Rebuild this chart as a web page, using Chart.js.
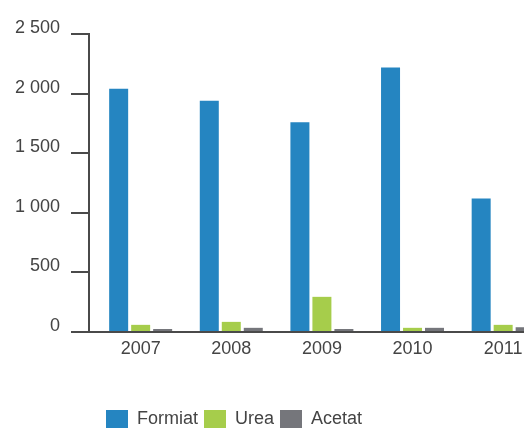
<!DOCTYPE html>
<html>
<head>
<meta charset="utf-8">
<script src="https://cdn.jsdelivr.net/npm/chart.js@4/dist/chart.umd.min.js"></script>
<style>
  html, body { margin: 0; padding: 0; background: #fff; overflow: hidden; }
  #wrap { position: relative; width: 524px; height: 429px; }
</style>
</head>
<body>
<div id="wrap"><canvas id="chart" width="524" height="429"></canvas></div>
<script>
// Production by year (tonnes)
const years = ['2007', '2008', '2009', '2010', '2011'];
const formiat = [2040, 1940, 1760, 2220, 1120];
const urea = [60, 85, 295, 35, 60];
const acetat = [25, 35, 25, 35, 40];
const yTicks = [0, 500, 1000, 1500, 2000, 2500];

const FONT = 'Liberation Sans, Arial, sans-serif';
const TEXT = '#444444';
const AXIS = '#4a4a4a';

const toPoints = arr => arr.map((v, i) => ({ x: i, y: v }));
const withSpaces = v => String(v).replace(/\B(?=(\d{3})+(?!\d))/g, ' ');

// Moves the legend block so it sits left of centre under the axis
const legendPlacement = {
  id: 'legendPlacement',
  afterLayout(chart) {
    const lg = chart.legend;
    if (!lg) return;
    lg.left -= 28; lg.right -= 28;
    lg.top += 9; lg.bottom += 9;
  }
};

new Chart(document.getElementById('chart'), {
  type: 'bar',
  data: {
    datasets: [
      { label: 'Formiat', data: toPoints(formiat), backgroundColor: '#2585c1', borderWidth: 0 },
      { label: 'Urea', data: toPoints(urea), backgroundColor: '#a6cd4b', borderWidth: 0 },
      { label: 'Acetat', data: toPoints(acetat), backgroundColor: '#75767b', borderWidth: 0 }
    ]
  },
  options: {
    responsive: false,
    animation: false,
    devicePixelRatio: 1,
    categoryPercentage: 0.728,
    barPercentage: 0.864,
    layout: { padding: { top: 34, left: 0, right: 0, bottom: 0 } },
    plugins: {
      tooltip: { enabled: false },
      legend: {
        position: 'bottom',
        align: 'center',
        labels: {
          boxWidth: 22,
          boxHeight: 18,
          padding: 6,
          color: TEXT,
          font: { family: FONT, size: 18 }
        }
      }
    },
    scales: {
      x: {
        type: 'linear',
        offset: false,
        min: -0.57,
        max: 4.23,
        afterBuildTicks: s => { s.ticks = years.map((_, i) => ({ value: i })); },
        afterFit: s => { s.height = 63; s.paddingLeft = 0; s.paddingRight = 0; },
        grid: { display: false, drawTicks: false },
        border: { display: true, color: AXIS, width: 2 },
        ticks: {
          callback: v => years[v],
          autoSkip: false,
          maxRotation: 0,
          padding: 6,
          color: TEXT,
          font: { family: FONT, size: 18 }
        }
      },
      y: {
        min: 0,
        max: 2500,
        afterBuildTicks: s => { s.ticks = yTicks.map(v => ({ value: v })); },
        afterFit: s => { s.width = 89; },
        grid: { drawOnChartArea: false, drawTicks: true, tickLength: 18, color: AXIS, lineWidth: 2 },
        border: { display: true, color: AXIS, width: 2 },
        ticks: {
          callback: v => withSpaces(v),
          padding: 11,
          labelOffset: -6,
          color: TEXT,
          font: { family: FONT, size: 18 }
        }
      }
    }
  },
  plugins: [legendPlacement]
});
</script>
</body>
</html>
